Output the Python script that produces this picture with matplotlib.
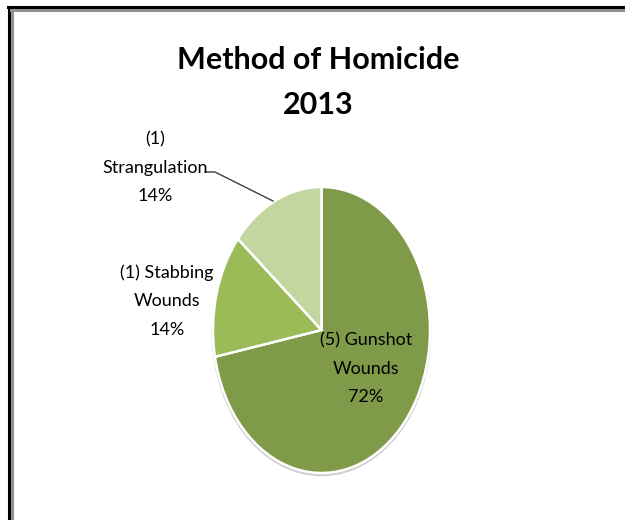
import matplotlib.pyplot as plt
from matplotlib.lines import Line2D
from matplotlib.patches import Ellipse

methods = ['Gunshot\nWounds', 'Stabbing\nWounds', 'Strangulation']
counts = [5, 1, 1]
shares = [72, 14, 14]
colors = ['#7f9a48', '#9bbb59', '#c4d6a0']

W, H = 625, 520
FONT = ['Lato', 'DejaVu Sans']


def px(x, y):
    # pixel position (from top-left) -> figure fraction
    return x / W, 1 - y / H


fig = plt.figure(figsize=(W / 100, H / 100), dpi=100)
fig.patch.set_facecolor('white')

# pie axes, stretched so the pie comes out as a tall ellipse
ax = fig.add_axes([213 / W, 1 - 473 / H, 217 / W, 286 / H])
ax.add_patch(Ellipse((0.0, -0.018), 2.01, 2.0, color='#d0d0d0', zorder=0, clip_on=False))
wedges, _ = ax.pie(shares, colors=colors, startangle=90, counterclock=False,
                   wedgeprops=dict(edgecolor='white', linewidth=1.8))
for w in wedges:
    w.set_clip_on(False)
ax.set_aspect('auto')
ax.set_xlim(-1, 1)
ax.set_ylim(-1, 1)
ax.axis('off')

# title
fig.text(*px(318, 60), 'Method of Homicide', ha='center', va='center',
         fontsize=22, fontweight='bold', family=FONT)
fig.text(*px(318, 105), '2013', ha='center', va='center',
         fontsize=22, fontweight='bold', family=FONT)

# slice labels
lbl = dict(ha='center', va='center', fontsize=13, family=FONT, linespacing=1.95)
fig.text(*px(366, 369), '(%d) %s\n%d%%' % (counts[0], methods[0], shares[0]), **lbl)
fig.text(*px(167, 301), '(%d) %s\n%d%%' % (counts[1], methods[1], shares[1]), **lbl)
fig.text(*px(155, 168), '(%d)\n%s\n%d%%' % (counts[2], methods[2], shares[2]), **lbl)

# leader line for the strangulation label
lx = [205 / W, 215 / W, 273 / W]
ly = [1 - 172 / H, 1 - 172 / H, 1 - 201 / H]
fig.add_artist(Line2D(lx, ly, color='#404040', linewidth=1.0))

# chart frame (left and top only)
fig.add_artist(Line2D([9 / W, 9 / W], [0, 1 - 7 / H], color='black', linewidth=2.2))
fig.add_artist(Line2D([12 / W, 12 / W], [0, 1 - 10 / H], color='#909090', linewidth=2.2))
fig.add_artist(Line2D([8 / W, 1], [1 - 7 / H, 1 - 7 / H], color='black', linewidth=2.2))
fig.add_artist(Line2D([11 / W, 1], [1 - 10 / H, 1 - 10 / H], color='#909090', linewidth=2.2))

fig.savefig('out.png', dpi=100)
